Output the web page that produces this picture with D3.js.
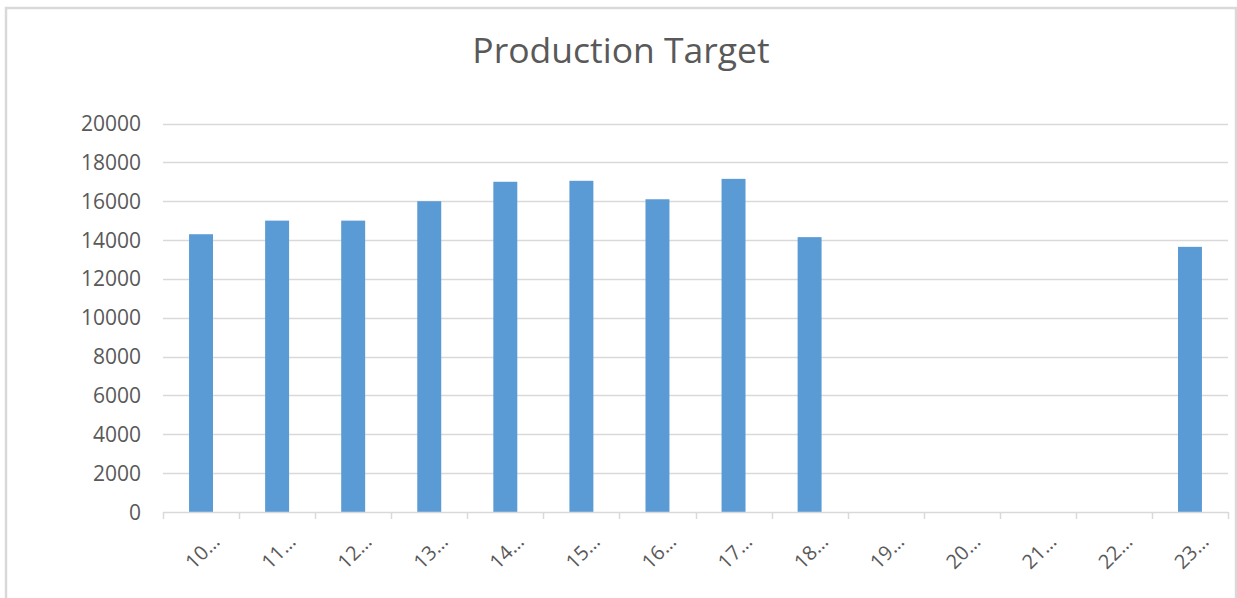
<!DOCTYPE html>
<html>
<head>
<meta charset="utf-8">
<script src="https://cdn.jsdelivr.net/npm/d3@7"></script>
<style>
  body { margin: 0; background: #fff; }
  svg { display: block; }
  text { font-family: "Open Sans", sans-serif; fill: #595959; }
</style>
</head>
<body>
<svg id="chart" width="1237" height="598"></svg>
<script>
var categories = ["10…", "11…", "12…", "13…", "14…", "15…", "16…", "17…", "18…", "19…", "20…", "21…", "22…", "23…"];
var targets = [14300, 15000, 15000, 16000, 17000, 17050, 16100, 17150, 14150, null, null, null, null, 13650];
var yTicks = [0, 2000, 4000, 6000, 8000, 10000, 12000, 14000, 16000, 18000, 20000];

var svg = d3.select("#chart");

var plotLeft = 163, plotRight = 1228, plotTop = 123.5, plotBottom = 512;

// chart frame
svg.append("rect")
  .attr("x", 6)
  .attr("y", 8)
  .attr("width", 1230)
  .attr("height", 600)
  .attr("fill", "none")
  .attr("stroke", "#d9d9d9")
  .attr("stroke-width", 2.5);

svg.append("text")
  .attr("x", 621)
  .attr("y", 63)
  .attr("text-anchor", "middle")
  .style("font-size", "35.5px")
  .text("Production Target");

var x = d3.scaleBand()
  .domain(categories)
  .range([plotLeft, plotRight])
  .paddingInner(0.685)
  .paddingOuter(0.3425);

var xTicks = d3.scaleLinear()
  .domain([0, categories.length])
  .range([plotLeft, plotRight]);

var y = d3.scaleLinear()
  .domain([0, 20000])
  .range([plotBottom, plotTop]);

var bars = categories.map(function(c, i) {
  return { cat: c, value: targets[i] };
}).filter(function(d) { return d.value != null; });

// gridlines
svg.append("g")
  .selectAll("line")
  .data(yTicks.slice(1))
  .enter()
  .append("line")
  .attr("x1", plotLeft)
  .attr("x2", plotRight)
  .attr("y1", function(d) { return Math.round(y(d)) + 0.5; })
  .attr("y2", function(d) { return Math.round(y(d)) + 0.5; })
  .attr("stroke", "#d9d9d9")
  .attr("stroke-width", 1.5);

// y labels
svg.append("g")
  .selectAll("text")
  .data(yTicks)
  .enter()
  .append("text")
  .attr("x", 141)
  .attr("y", function(d) { return y(d); })
  .attr("dy", "0.36em")
  .attr("text-anchor", "end")
  .style("font-size", "21px")
  .text(function(d) { return d; });

// bars
svg.append("g")
  .selectAll("rect")
  .data(bars)
  .enter()
  .append("rect")
  .attr("x", function(d) { return x(d.cat); })
  .attr("y", function(d) { return y(d.value); })
  .attr("width", x.bandwidth())
  .attr("height", function(d) { return plotBottom - y(d.value); })
  .attr("fill", "#5b9bd5");

// x axis line and ticks
svg.append("line")
  .attr("x1", plotLeft)
  .attr("x2", plotRight)
  .attr("y1", plotBottom + 0.5)
  .attr("y2", plotBottom + 0.5)
  .attr("stroke", "#d9d9d9")
  .attr("stroke-width", 1.5);

svg.append("g")
  .selectAll("line")
  .data(d3.range(categories.length + 1))
  .enter()
  .append("line")
  .attr("x1", function(d) { return Math.round(xTicks(d)) + 0.5; })
  .attr("x2", function(d) { return Math.round(xTicks(d)) + 0.5; })
  .attr("y1", plotBottom)
  .attr("y2", plotBottom + 7)
  .attr("stroke", "#d9d9d9")
  .attr("stroke-width", 1.5);

// x labels
svg.append("g")
  .selectAll("text")
  .data(categories)
  .enter()
  .append("text")
  .attr("transform", function(d) {
    return "translate(" + (x(d) + x.bandwidth() / 2 + 15) + "," + 538 + ") rotate(-45)";
  })
  .attr("text-anchor", "end")
  .attr("dy", "0.35em")
  .style("font-size", "20px")
  .text(function(d) { return d; });
</script>
</body>
</html>
